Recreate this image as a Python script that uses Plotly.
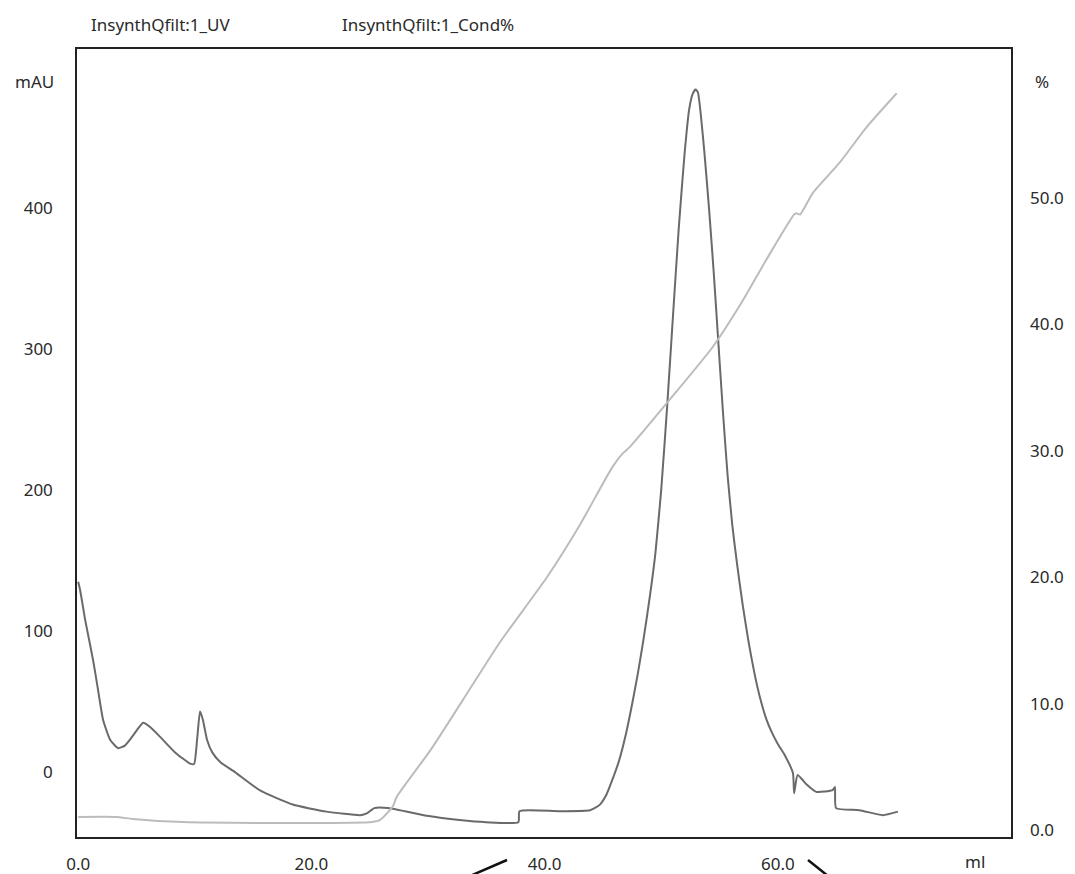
import plotly.graph_objects as go

# ---- data ----
uv_ml = [0.0, 0.17, 0.6, 1.29, 1.71, 2.14, 2.74, 3.43, 4.03, 4.71, 5.57, 6.17, 7.03, 8.31, 9.6, 9.94,
         10.2, 10.45, 10.7, 11.05, 11.5, 12.2, 13.45, 15.6, 18.4, 21.3, 24.2, 24.8, 25.4, 26.6, 29.9,
         32.7, 35.0, 37.75, 37.85, 41.3, 43.9, 44.7, 45.3, 45.8, 46.4, 47.0, 47.5, 48.0, 48.5, 49.0,
         49.5, 50.0, 50.5, 51.0, 51.5, 52.0, 52.4, 52.7, 52.95, 53.15, 53.4, 53.7, 54.1, 54.5, 54.9,
         55.3, 55.7, 56.1, 56.5, 57.0, 57.5, 58.0, 58.5, 59.0, 59.5, 60.0, 60.6, 61.3, 61.4, 61.7,
         62.5, 63.3, 64.7, 64.9, 65.0, 67.0, 69.0, 70.3]
uv_mau = [135, 129, 108, 79, 58, 37, 23, 17, 19, 26, 35, 32, 25, 14, 6, 5.7,
          23, 43, 37, 23, 14, 7, 0, -13, -23, -28, -30.5, -29, -25.5, -25.5, -31,
          -34, -35.5, -35.5, -27.7, -27.7, -27, -23.4, -16, -5.7, 8.5, 28, 48, 70, 95, 123,
          155, 200, 258, 322, 385, 438, 470, 481, 484, 482, 466, 440, 400, 355, 305,
          255, 210, 175, 148, 118, 92, 70, 52, 38, 28, 20, 12, -0.7, -15, -2,
          -9, -14, -12.8, -10.6, -25.5, -27, -30.5, -28]

cond_ml = [0.0, 3.3, 4.7, 9.0, 25.2, 25.9, 27.0, 27.3, 30.2, 33.0, 36.2, 40.2, 43.0, 45.8, 46.7,
           47.3, 50.5, 54.4, 57.0, 59.0, 61.4, 61.6, 61.9, 63.0, 65.3, 67.6, 70.2]
cond_pct = [1.03, 1.03, 0.87, 0.63, 0.63, 0.8, 1.9, 2.6, 6.3, 10.3, 14.9, 20.0, 24.1, 28.7, 29.8,
            30.3, 33.8, 38.2, 41.9, 45.1, 48.7, 48.8, 48.7, 50.4, 52.8, 55.6, 58.3]

x_ticks = [0, 20, 40, 60]
x_tick_text = ["0.0", "20.0", "40.0", "60.0"]
y_ticks = [0, 100, 200, 300, 400]
y_tick_text = ["0", "100", "200", "300", "400"]
y2_ticks = [0, 10, 20, 30, 40, 50]
y2_tick_text = ["0.0", "10.0", "20.0", "30.0", "40.0", "50.0"]

FONT = "Noto Sans"
TXT = "#2a2a2a"
FS = 17

fig = go.Figure()
fig.add_trace(go.Scatter(x=cond_ml, y=cond_pct, mode="lines", yaxis="y2",
                         line=dict(color="#bcbcbc", width=2, shape="spline", smoothing=0.6),
                         name="InsynthQfilt:1_Cond%"))
fig.add_trace(go.Scatter(x=uv_ml, y=uv_mau, mode="lines",
                         line=dict(color="#6a6a6a", width=2, shape="spline", smoothing=0.5),
                         name="InsynthQfilt:1_UV"))

fig.update_layout(
    width=1075, height=874,
    margin=dict(l=77, r=64, t=49, b=37),
    paper_bgcolor="white", plot_bgcolor="white",
    showlegend=False,
    font=dict(family=FONT, size=FS, color=TXT),
    xaxis=dict(range=[-0.1, 80], tickvals=x_ticks, ticktext=x_tick_text,
               showgrid=False, zeroline=False, ticks="", showline=True, mirror=True,
               linecolor="#222222", linewidth=1.5, ticklabelstandoff=11, automargin=False,
               tickfont=dict(family=FONT, size=FS, color=TXT)),
    yaxis=dict(range=[-46, 512.8], tickvals=y_ticks, ticktext=y_tick_text,
               showgrid=False, zeroline=False, ticks="", showline=True, mirror=True,
               linecolor="#222222", linewidth=1.5, ticklabelstandoff=19, automargin=False,
               tickfont=dict(family=FONT, size=FS, color=TXT)),
    yaxis2=dict(range=[-0.55, 61.8], tickvals=y2_ticks, ticktext=y2_tick_text,
                overlaying="y", side="right", showgrid=False, zeroline=False, ticks="",
                showline=False, ticklabelstandoff=18, automargin=False,
                tickfont=dict(family=FONT, size=FS, color=TXT)),
)

# labels placed by canvas pixel -> paper coordinates
labels = [
    ("InsynthQfilt:1_UV", 89, 24, "left"),
    ("InsynthQfilt:1_Cond%", 340, 24, "left"),
    ("mAU", 34, 81, "center"),
    ("%", 1033, 81, "left"),
    ("ml", 975, 862, "center"),
]
for text, px, py, xa in labels:
    fig.add_annotation(text=text, xref="paper", yref="paper",
                       x=(px - 77) / 934, y=(837 - py) / 788,
                       xanchor=xa, yanchor="middle", showarrow=False,
                       font=dict(family=FONT, size=FS, color=TXT))

# two small dark strokes below the axis
for (x0, y0, x1, y1) in [(470, 876, 507, 860), (808, 860, 828, 876)]:
    fig.add_shape(type="line", xref="paper", yref="paper",
                  x0=(x0 - 77) / 934, y0=(837 - y0) / 788,
                  x1=(x1 - 77) / 934, y1=(837 - y1) / 788,
                  line=dict(color="#111111", width=2.5))

fig.write_html("out.html", config={"displayModeBar": False},
               post_script="document.body.style.margin='0';document.body.style.overflow='hidden';")
